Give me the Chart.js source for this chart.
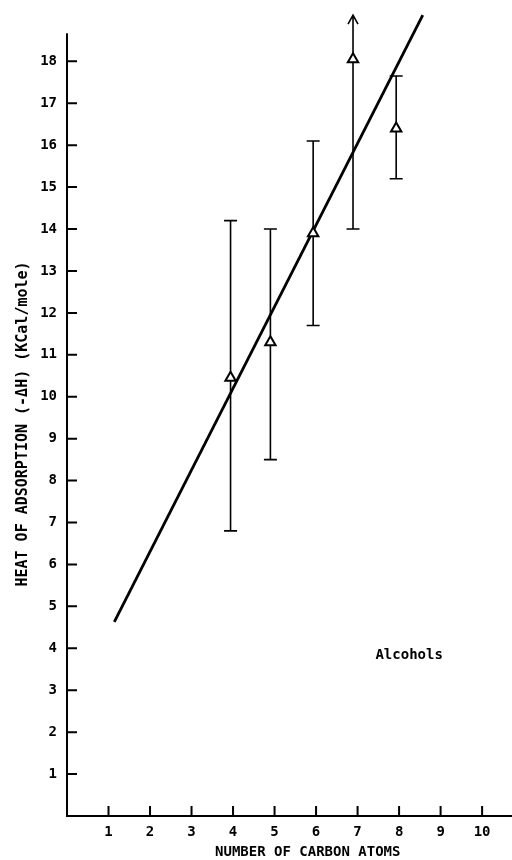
<!DOCTYPE html>
<html>
<head>
<meta charset="utf-8">
<script src="https://cdn.jsdelivr.net/npm/chart.js@4.4.1/dist/chart.umd.min.js"></script>
<style>
    body { margin: 0; background: #fff; overflow: hidden; }
    #wrap { width: 512px; height: 860px; }
    canvas { display: block; }
</style>
</head>
<body>
<div id="wrap"><canvas id="myChart" width="512" height="860"></canvas></div>
<script>
// Datos
const carbonAtoms = [3.94, 4.9, 5.93, 6.89, 7.93];
const heatValues = [10.45, 11.3, 13.9, 18.05, 16.4];
const errLow = [6.8, 8.5, 11.7, 14.0, 15.2];
const errHigh = [14.2, 14.0, 16.1, 19.1, 17.65];
const arrowUp = [false, false, false, true, false];

// Recta de ajuste (extremos)
const fitX = [1.14, 8.57];
const fitY = [4.63, 19.1];

// Etiquetas de los ejes
const xTicks = [1, 2, 3, 4, 5, 6, 7, 8, 9, 10];
const yTicks = [1, 2, 3, 4, 5, 6, 7, 8, 9, 10, 11, 12, 13, 14, 15, 16, 17, 18];
const xTitle = 'NUMBER OF CARBON ATOMS';
const yTitle = 'HEAT OF ADSORPTION (-\u0394H) (KCal/mole)';
const seriesLabel = 'Alcohols';

const FONT = "'DejaVu Sans Mono', 'Liberation Mono', monospace";

// Plugin para ejes, marcas hacia dentro, barras de error y textos
const figurePlugin = {
    id: 'figure',
    beforeDatasetsDraw(chart) {
        const ctx = chart.ctx;
        const xs = chart.scales.x;
        const ys = chart.scales.y;
        const area = chart.chartArea;
        ctx.save();
        ctx.strokeStyle = '#000';
        ctx.lineCap = 'butt';

        // ejes
        ctx.lineWidth = 2;
        ctx.beginPath();
        ctx.moveTo(area.left, ys.getPixelForValue(18.67));
        ctx.lineTo(area.left, area.bottom + 1);
        ctx.moveTo(area.left - 1, area.bottom);
        ctx.lineTo(area.right, area.bottom);
        ctx.stroke();

        // marcas hacia dentro
        ctx.beginPath();
        yTicks.forEach(v => {
            const py = ys.getPixelForValue(v);
            ctx.moveTo(area.left, py);
            ctx.lineTo(area.left + 10, py);
        });
        xTicks.forEach(v => {
            const px = xs.getPixelForValue(v);
            ctx.moveTo(px, area.bottom);
            ctx.lineTo(px, area.bottom - 10);
        });
        ctx.stroke();

        // barras de error
        ctx.lineWidth = 1.6;
        carbonAtoms.forEach((c, i) => {
            const px = xs.getPixelForValue(c);
            const lo = ys.getPixelForValue(errLow[i]);
            const hi = ys.getPixelForValue(errHigh[i]);
            ctx.beginPath();
            ctx.moveTo(px, lo);
            ctx.lineTo(px, hi);
            ctx.moveTo(px - 6.5, lo);
            ctx.lineTo(px + 6.5, lo);
            if (arrowUp[i]) {
                ctx.moveTo(px - 5, hi + 9);
                ctx.lineTo(px, hi);
                ctx.lineTo(px + 5, hi + 9);
            } else {
                ctx.moveTo(px - 6.5, hi);
                ctx.lineTo(px + 6.5, hi);
            }
            ctx.stroke();
        });
        ctx.restore();
    },
    afterDraw(chart) {
        const ctx = chart.ctx;
        const xs = chart.scales.x;
        const ys = chart.scales.y;
        const area = chart.chartArea;
        ctx.save();
        ctx.fillStyle = '#000';
        ctx.textBaseline = 'middle';

        // titulo eje x
        ctx.font = 'bold 14px ' + FONT;
        ctx.textAlign = 'center';
        ctx.fillText(xTitle, xs.getPixelForValue(5.8), area.bottom + 36);

        // leyenda de la serie
        ctx.textAlign = 'left';
        ctx.fillText(seriesLabel, xs.getPixelForValue(7.43), ys.getPixelForValue(3.82));

        // titulo eje y
        ctx.font = 'bold 15px ' + FONT;
        ctx.translate(23, ys.getPixelForValue(9.35));
        ctx.rotate(-Math.PI / 2);
        ctx.textAlign = 'center';
        ctx.fillText(yTitle, 0, 0);
        ctx.restore();
    }
};

const ctx = document.getElementById('myChart').getContext('2d');
const myChart = new Chart(ctx, {
    type: 'scatter',
    data: {
        datasets: [{
            label: seriesLabel,
            data: carbonAtoms.map((c, i) => ({ x: c, y: heatValues[i] })),
            pointStyle: 'triangle',
            pointRadius: 6,
            pointBackgroundColor: '#fff',
            pointBorderColor: '#000',
            pointBorderWidth: 2,
            order: 1
        }, {
            type: 'line',
            label: 'fit',
            data: fitX.map((x, i) => ({ x: x, y: fitY[i] })),
            borderColor: '#000',
            borderWidth: 2.8,
            pointRadius: 0,
            fill: false,
            order: 2
        }]
    },
    options: {
        responsive: false,
        animation: false,
        devicePixelRatio: 1,
        layout: { autoPadding: false, padding: { top: 11, right: 0, left: 0, bottom: 0 } },
        plugins: {
            legend: { display: false },
            tooltip: { enabled: false }
        },
        scales: {
            x: {
                type: 'linear',
                min: 0,
                max: 10.72,
                grid: { display: false, drawTicks: false },
                border: { display: false },
                ticks: {
                    color: '#000',
                    font: { family: FONT, size: 14, weight: 'bold' },
                    padding: 8,
                    maxRotation: 0
                },
                afterBuildTicks: s => { s.ticks = xTicks.map(v => ({ value: v })); },
                afterFit: s => {
                    s.height = 44;
                    s.paddingLeft = 0;
                    s.paddingRight = 0;
                }
            },
            y: {
                type: 'linear',
                min: 0,
                max: 19.2,
                grid: { display: false, drawTicks: false },
                border: { display: false },
                ticks: {
                    color: '#000',
                    font: { family: FONT, size: 14, weight: 'bold' },
                    padding: 10
                },
                afterBuildTicks: s => { s.ticks = yTicks.map(v => ({ value: v })); },
                afterFit: s => {
                    s.width = 67;
                    s.paddingTop = 0;
                    s.paddingBottom = 0;
                }
            }
        }
    },
    plugins: [figurePlugin]
});
</script>
</body>
</html>
